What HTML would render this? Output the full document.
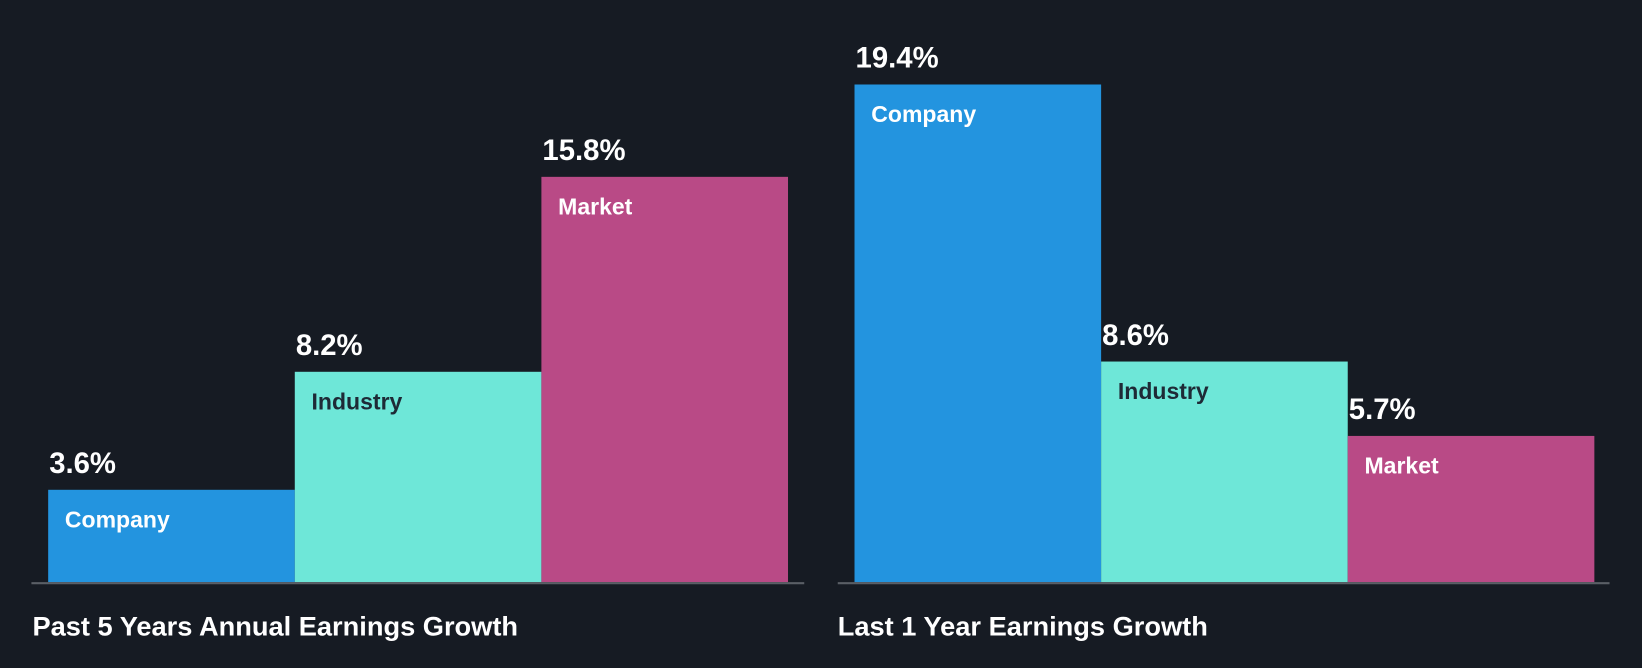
<!DOCTYPE html>
<html><head><meta charset="utf-8"><style>
body{margin:0;background:#161b23;}
svg{display:block;font-family:"Liberation Sans",Arial,sans-serif;}
</style></head><body>
<svg id="chart" width="1642" height="668" viewBox="0 0 1568 638" preserveAspectRatio="none">
<rect width="1568" height="638" fill="#161b23"/>
</svg>
<script>
const categories = ["Company", "Industry", "Market"];
const past5Years = [3.6, 8.2, 15.8];
const last1Year = [19.4, 8.6, 5.7];
const panelTitles = ["Past 5 Years Annual Earnings Growth", "Last 1 Year Earnings Growth"];

const svg = document.getElementById('chart');
const NS = 'http://www.w3.org/2000/svg';
const colors = ["#2394df", "#6ee7d8", "#b94a86"];
const labelColors = ["#ffffff", "#1e2a36", "#ffffff"];
const baseY = 556, pxPer = 24.5, barW = 235.5;
function y(v){ return baseY - v * pxPer; }
function mk(tag, attrs){ const e = document.createElementNS(NS, tag); for (const k in attrs) e.setAttribute(k, attrs[k]); svg.appendChild(e); return e; }
const panels = [{x0: 46, ax0: 30, ax1: 768, data: past5Years, tx: 31}, {x0: 816, ax0: 800, ax1: 1537, data: last1Year, tx: 800}];
panels.forEach((p, pi) => {
  p.data.forEach((v, i) => {
    const x = p.x0 + i * barW;
    const r = mk('rect', {x: x, y: y(v), width: barW, height: baseY - y(v), fill: colors[i]});
    
    
    const t = mk('text', {x: x + 1, y: y(v) - 16, fill: '#ffffff', 'font-size': 28, 'font-weight': 'bold'});
    t.textContent = v.toFixed(1) + '%';
    
    
    const l = mk('text', {x: x + 16, y: y(v) + 36, fill: labelColors[i], 'font-size': 22, 'font-weight': 'bold'});
    l.textContent = categories[i];
    
    
  });
  const a = mk('line', {x1: p.ax0, x2: p.ax1, y1: baseY + 1, y2: baseY + 1, stroke: '#5a5f66', 'stroke-width': 2});
  
  
  const tt = mk('text', {x: p.tx, y: 607, fill: '#ffffff', 'font-size': 26, 'font-weight': 'bold'});
  tt.textContent = panelTitles[pi];
  
  
});
</script>
</body></html>
